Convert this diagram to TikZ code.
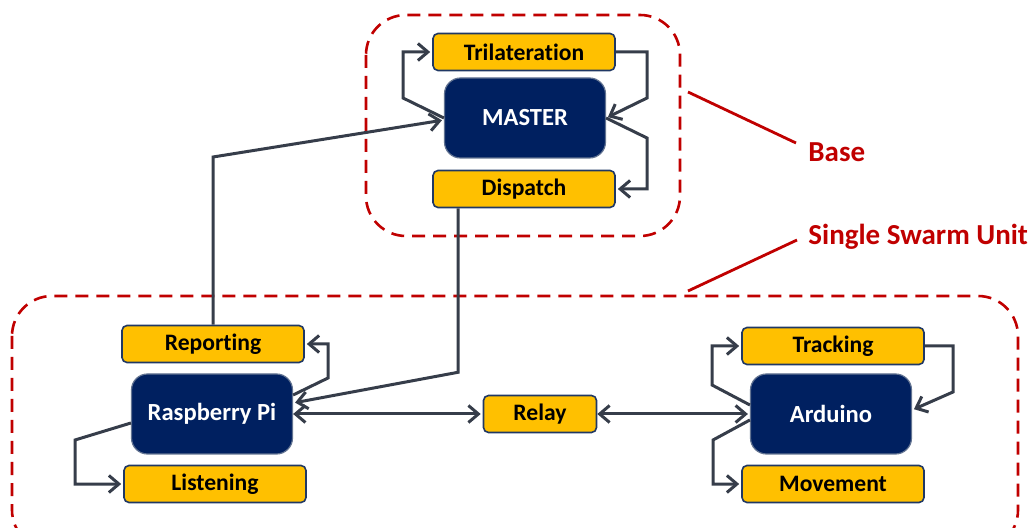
\documentclass[tikz,border=0pt]{standalone}
\usepackage{fontspec}
\setmainfont{Carlito}[Ligatures=NoCommon]
\usetikzlibrary{arrows.meta, positioning}
\usepackage{xcolor}
\definecolor{taskyellow}{HTML}{FFC000}
\definecolor{boardnavy}{HTML}{002060}
\definecolor{boxedge}{HTML}{203864}
\definecolor{linkgray}{HTML}{363D4A}
\definecolor{zonered}{HTML}{C00000}
\def\taskwidth{91pt}

\begin{document}
\begin{tikzpicture}[x=0.5pt,y=-0.5pt, >={Straight Barb[length=5pt,width=8.5pt]}]
    \tikzstyle{task}=[rectangle, rounded corners=2.5pt, fill=taskyellow, draw=boxedge, line width=0.8pt, minimum width=\taskwidth, minimum height=18.5pt, inner sep=0pt, font=\bfseries\fontsize{11.8}{13}\selectfont]
    \tikzstyle{board}=[rectangle, rounded corners=8pt, fill=boardnavy, draw=boxedge!70, line width=0.6pt, text=white, minimum width=80.5pt, minimum height=40pt, inner sep=0pt, font=\bfseries\fontsize{12.3}{13}\selectfont]
    \tikzstyle{link}=[draw=linkgray, line width=1.5pt, ->, shorten >=1pt]
    \tikzstyle{zone}=[draw=zonered, line width=1.3pt, dash pattern=on 6.5pt off 4pt, rounded corners=20pt]
    \tikzstyle{callout}=[text=zonered, anchor=west, inner sep=2pt, font=\bfseries\fontsize{14.5}{16}\selectfont]

    \useasboundingbox (0,0) rectangle (1032,528);

    % Draw the dashed zones
    \draw[zone] (366,15) rectangle (680,236);
    \draw[zone] (12,296) rectangle (1018,550);

    % Draw the boards
    \node[board] (master) at (525,118) {MASTER};
    \node[board] (rpi) at (212,414) {Raspberry Pi};
    \node[board] (ard) at (831,414) {Arduino};

    % Draw the task boxes
    \foreach \name / \x / \y / \txt in {tri/524/52/Trilateration, disp/524/189/Dispatch,
        report/213/344/Reporting, listen/215/484/Listening,
        track/833/346/Tracking, move/833/484/Movement}
        \node[task] (\name) at (\x,\y) {\txt};
    \node[task, minimum width=56.5pt] (relay) at (540,414) {Relay};

    % Loops round the master
    \draw[link] (master.west) -- (403,98) |- (tri.west);
    \draw[link] (tri.east) -| (647,98) -- (master.east);
    \draw[link] (master.east) -- (647,138) |- (disp.east);

    % Base to unit and back
    \draw[link] ([xshift=-33pt]disp.south) -- ++(0,164) -- ([yshift=5.5pt]rpi.east);
    \draw[link] (report.north) -- (213,157) -- ([yshift=-1pt]master.west);

    % Loops round the raspberry pi
    \draw[link] ([yshift=9.5pt]rpi.east) -- (328,378) |- (report.east);
    \draw[link] ([yshift=-4.5pt]rpi.west) -- (75,440) |- (listen.west);

    % Relay between the two boards
    \draw[link, <->] (rpi.east) -- (relay.west);
    \draw[link, <->] (relay.east) -- (ard.west);

    % Loops round the arduino
    \draw[link] ([yshift=4.5pt]ard.west) -- (712,385) |- (track.west);
    \draw[link] (track.east) -| (953,392) -- ([yshift=2pt]ard.east);
    \draw[link] ([yshift=-3pt]ard.west) -- (713,440) |- (move.west);

    % Annotate the zones
    \node[callout] (base) at (804,152) {Base};
    \node[callout] (unit) at (804,237) {Single Swarm Unit};
    \coordinate (base tip) at (688,92);
    \coordinate (unit tip) at (688,291);
    \draw[zonered, line width=1.4pt] (base tip) -- ([xshift=-4pt,yshift=4.5pt]base.west);
    \draw[zonered, line width=1.4pt] (unit tip) -- ([xshift=-3.5pt,yshift=-1.5pt]unit.west);
\end{tikzpicture}
\end{document}
